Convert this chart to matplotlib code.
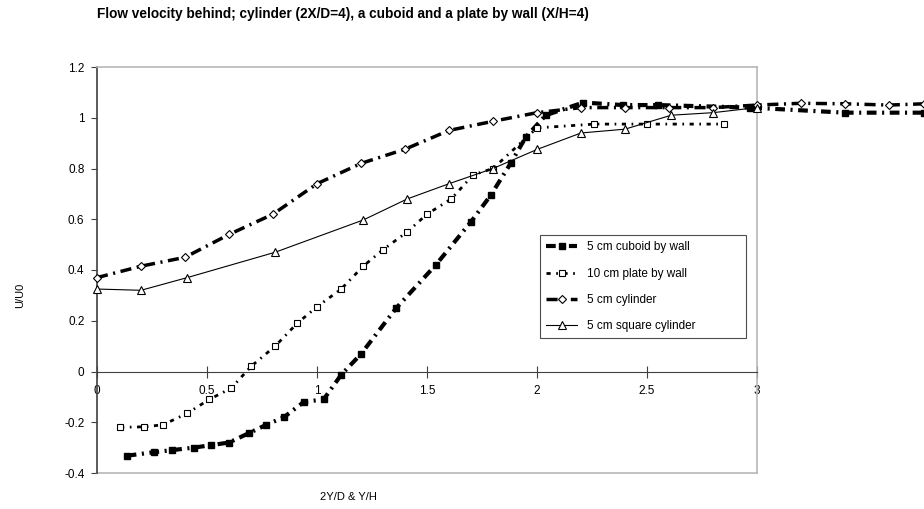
import matplotlib
matplotlib.use("Agg")
import matplotlib.pyplot as plt

plt.rcParams['font.family'] = ['Liberation Sans', 'DejaVu Sans']
plt.rcParams['lines.scale_dashes'] = False

# 5 cm cuboid by wall
cuboid_x = [0.135, 0.26, 0.34, 0.44, 0.52, 0.6, 0.69, 0.77, 0.85, 0.94, 1.03, 1.11, 1.2,
            1.36, 1.54, 1.7, 1.79, 1.88, 1.95, 2.04, 2.21, 2.39, 2.55, 2.97, 3.4, 3.76]
cuboid_y = [-0.332, -0.318, -0.31, -0.30, -0.29, -0.28, -0.243, -0.21, -0.18, -0.12, -0.11, -0.013, 0.069,
            0.25, 0.42, 0.59, 0.695, 0.82, 0.925, 1.01, 1.06, 1.05, 1.05, 1.04, 1.02, 1.02]

# 10 cm plate by wall
plate_x = [0.105, 0.215, 0.3, 0.41, 0.51, 0.61, 0.70, 0.81, 0.91, 1.0, 1.11, 1.21,
           1.3, 1.41, 1.5, 1.61, 1.71, 1.8, 2.0, 2.26, 2.5, 2.85]
plate_y = [-0.22, -0.218, -0.21, -0.165, -0.11, -0.066, 0.02, 0.10, 0.19, 0.255, 0.325, 0.415,
           0.48, 0.55, 0.62, 0.68, 0.775, 0.80, 0.96, 0.975, 0.975, 0.975]

# 5 cm cylinder
cyl_x = [0.0, 0.2, 0.4, 0.6, 0.8, 1.0, 1.2, 1.4, 1.6, 1.8, 2.0, 2.2, 2.4, 2.6, 2.8, 3.0, 3.2, 3.4, 3.6, 3.76]
cyl_y = [0.37, 0.415, 0.45, 0.54, 0.62, 0.74, 0.82, 0.876, 0.95, 0.986, 1.02, 1.04, 1.04, 1.04, 1.04,
         1.05, 1.057, 1.055, 1.05, 1.055]

# 5 cm square cylinder
sq_x = [0.0, 0.2, 0.41, 0.81, 1.21, 1.41, 1.6, 1.8, 2.0, 2.2, 2.4, 2.61, 2.8, 3.0]
sq_y = [0.325, 0.32, 0.37, 0.47, 0.597, 0.68, 0.74, 0.80, 0.875, 0.94, 0.955, 1.01, 1.02, 1.04]

fig = plt.figure(figsize=(9.24, 5.09), dpi=100)
ax = fig.add_axes([97 / 924, 1 - 473 / 509, 660 / 924, 406 / 509])

ax.plot(cuboid_x, cuboid_y, color='black', lw=3, dashes=(7, 4, 1.5, 4),
        marker='s', ms=5, mfc='black', mec='black', clip_on=False, label='5 cm cuboid by wall', zorder=3)
ax.plot(plate_x, plate_y, color='black', lw=2, dashes=(3, 4, 1.2, 4),
        marker='s', ms=5, mfc='white', mec='black', mew=0.8, clip_on=False,
        label='10 cm plate by wall', zorder=3)
ax.plot(cyl_x, cyl_y, color='black', lw=2.5, dashes=(8, 4, 1.5, 4),
        marker='D', ms=4, mfc='white', mec='black', mew=0.8, clip_on=False,
        label='5 cm cylinder', zorder=3)
ax.plot(sq_x, sq_y, color='black', lw=0.8, marker='^', ms=6, mfc='white', mec='black', mew=0.8,
        clip_on=False, label='5 cm square cylinder', zorder=3)

ax.set_xlim(0, 3)
ax.set_ylim(-0.4, 1.2)
ax.set_xticks([0, 0.5, 1, 1.5, 2, 2.5, 3])
ax.set_xticklabels(['0', '0.5', '1', '1.5', '2', '2.5', '3'])
ax.set_yticks([-0.4, -0.2, 0, 0.2, 0.4, 0.6, 0.8, 1, 1.2])
ax.set_yticklabels(['-0.4', '-0.2', '0', '0.2', '0.4', '0.6', '0.8', '1', '1.2'])

ax.spines['bottom'].set_position(('data', 0))
ax.spines['bottom'].set_color('#404040')
ax.spines['left'].set_color('#404040')
ax.spines['left'].set_linewidth(1.2)
for side in ['top', 'right']:
    ax.spines[side].set_color('#b8b8b8')
    ax.spines[side].set_linewidth(1.2)
# outer frame bottom edge
ax.plot([0, 1], [0, 0], transform=ax.transAxes, color='#b8b8b8', lw=1.2, clip_on=False)

ax.tick_params(axis='x', direction='inout', length=8, width=0.8, color='#404040', labelsize=8.5, pad=6)
ax.tick_params(axis='y', direction='out', length=4, width=0.8, color='#404040', labelsize=8.5, pad=5)

# legend box spans x 540..746 px, y 235..337 px
leg = ax.legend(loc='upper left', mode='expand',
                bbox_to_anchor=((540 - 97) / 660, (473 - 337) / 406, 206 / 660, 102 / 406),
                borderaxespad=0, fontsize=8.5, frameon=True, fancybox=False,
                handlelength=2.6, handletextpad=0.8, labelspacing=1.2, borderpad=0.55,
                edgecolor='#202020')
leg.get_frame().set_linewidth(0.8)

fig.text(97 / 924, 1 - 14 / 509, 'Flow velocity behind; cylinder (2X/D=4), a cuboid and a plate by wall (X/H=4)',
         fontsize=9.8, fontweight='bold', ha='left', va='center')
fig.text(20 / 924, 1 - 295 / 509, 'U/U0', fontsize=8, rotation=90, ha='center', va='center')
fig.text(348 / 924, 1 - 497 / 509, '2Y/D & Y/H', fontsize=8, ha='center', va='center')

fig.savefig('out.png', dpi=100)
